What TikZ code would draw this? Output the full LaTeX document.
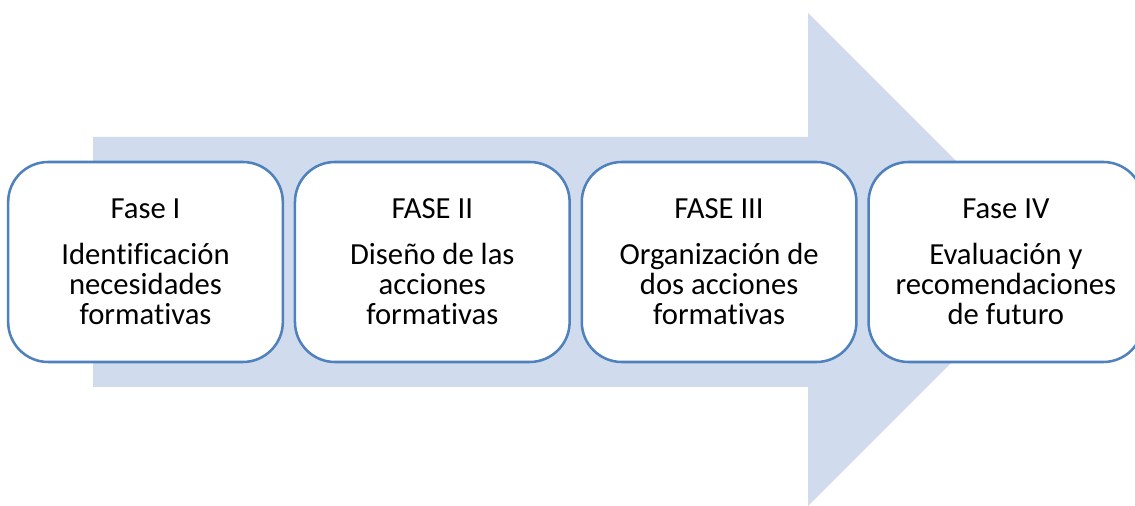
\documentclass[tikz,border=0pt]{standalone}
\usepackage{fontspec}
\setmainfont{Carlito}[Ligatures=NoCommon]
\usetikzlibrary{positioning}
\definecolor{phaseblue}{RGB}{79,129,189}
\definecolor{arrowfill}{RGB}{208,220,238}
\tikzset{
  phasebox/.style = {draw=phaseblue, line width=1.9pt, fill=white, rounded corners=30pt,
    minimum width=206pt, minimum height=150pt, inner sep=0pt, align=center,
    font=\fontsize{23}{22.5}\selectfont},
  bigarrow/.style = {fill=arrowfill, draw=none},
}

\begin{document}
\begin{tikzpicture}[x=0.75pt, y=0.75pt]
\useasboundingbox (0,0) rectangle (1135,506);

% Background arrow
\fill[bigarrow] (93,119) -- (93,369) -- (808,369) -- (808,493)
  -- (1054.5,246.5) -- (808,0) -- (808,119) -- cycle;

% Phases
\node[phasebox] (f1) at (145.5,244) {Fase I\\[12pt]Identificación\\necesidades\\formativas};
\node[phasebox, right=7.2pt of f1] (f2) {FASE II\\[12pt]Diseño de las\\acciones\\formativas};
\node[phasebox, right=7.2pt of f2] (f3) {FASE III\\[12pt]Organización de\\dos acciones\\formativas};
\node[phasebox, right=7.2pt of f3] (f4) {Fase IV\\[12pt]Evaluación y\\recomendaciones\\de futuro};

\end{tikzpicture}
\end{document}
